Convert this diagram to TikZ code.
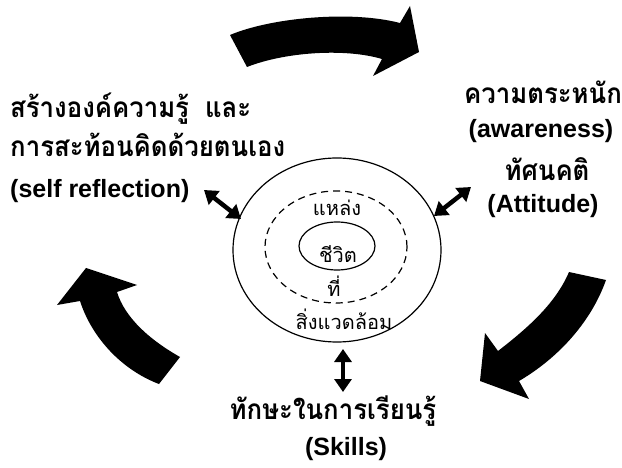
\documentclass[tikz,border=0pt]{standalone}
\usepackage{fontspec}
\setmainfont{Liberation Sans}
\newfontfamily\thai[Script=Thai]{Loma}
\newfontfamily\thaib[Script=Thai,FakeStretch=0.92]{Loma}
\usetikzlibrary{arrows.meta,shapes.geometric}
\begin{document}
\begin{tikzpicture}[x=1pt,y=-1pt,
  bigarrow/.style={fill=black,draw=none},
  dbl/.style={line width=4.5pt,{Triangle[width=17pt,length=13pt]}-{Triangle[width=17pt,length=13pt]}},
  lbl/.style={font=\bfseries\fontsize{25}{28}\selectfont,inner sep=0pt,anchor=base},
  thlbl/.style={font=\thaib\bfseries\fontsize{28}{30}\selectfont,inner sep=0pt,anchor=base},
  inlbl/.style={font=\thai\fontsize{20}{24}\selectfont,inner sep=0pt,anchor=base},
  ring/.style={draw,ellipse,line width=1.2pt,inner sep=0pt}]
\useasboundingbox (0,0) rectangle (622,468);
% big curved arrows
\path[bigarrow] (230,35) .. controls (270,18) and (350,10) .. (400,23)
  -- (410,6) -- (419,52) -- (373,76) -- (382,59)
  .. controls (345,48) and (285,52) .. (247,67) -- cycle;
\path[bigarrow] (569,272) .. controls (555,305) and (525,330) .. (498,351)
  -- (485,333) -- (480,381) -- (529,399) -- (519,381)
  .. controls (555,360) and (590,325) .. (606,280) -- cycle;
\path[bigarrow] (159,384) .. controls (122,370) and (92,338) .. (80,301)
  -- (57,305) -- (86,268) -- (137,285) -- (117,292)
  .. controls (125,318) and (150,340) .. (180,357) -- cycle;
% rings
\node[ring,minimum width=208pt,minimum height=184pt] (outer) at (337,250) {};
\node[ring,dashed,dash pattern=on 7pt off 5pt,minimum width=142pt,minimum height=112pt] (mid) at (336,247) {};
\node[ring,minimum width=76pt,minimum height=48pt] (core) at (337,246) {};
\node[inlbl] (t1) at (337,216) {แหล่ง};
\node[inlbl] (t2) at (338,262) {ชีวิต};
\node[inlbl] (t3) at (334,297) {ที่};
\node[inlbl] (t4) at (344,330) {สิ่งแวดล้อม};
% left labels
\node[thlbl,anchor=base west] (l1) at (10,118) {สร้างองค์ความรู้\hspace{16pt}และ};
\node[thlbl,anchor=base west] (l2) at (10,157) {การสะท้อนคิดด้วยตนเอง};
\node[lbl,anchor=base west] (l3) at (10,198) {(self reflection)};
% right labels
\node[thlbl] (r1) at (543,104) {ความตระหนัก};
\node[lbl] (r2) at (541,138) {(awareness)};
\node[thlbl] (r3) at (547,181) {ทัศนคติ};
\node[lbl] (r4) at (543,213) {(Attitude)};
% bottom labels
\node[thlbl] (b1) at (333,419) {ทักษะในการเรียนรู้};
\node[lbl] (b2) at (346,455) {(Skills)};
% double arrows
\coordinate (la) at (204,190);
\coordinate (lb) at (241,219);
\coordinate (ra) at (471,187);
\coordinate (rb) at (434,216);
\coordinate (ba) at (343,349);
\coordinate (bb) at (343,392);
\draw[dbl] (la) -- (lb);
\draw[dbl] (ra) -- (rb);
\draw[dbl] (ba) -- (bb);
\end{tikzpicture}
\end{document}
